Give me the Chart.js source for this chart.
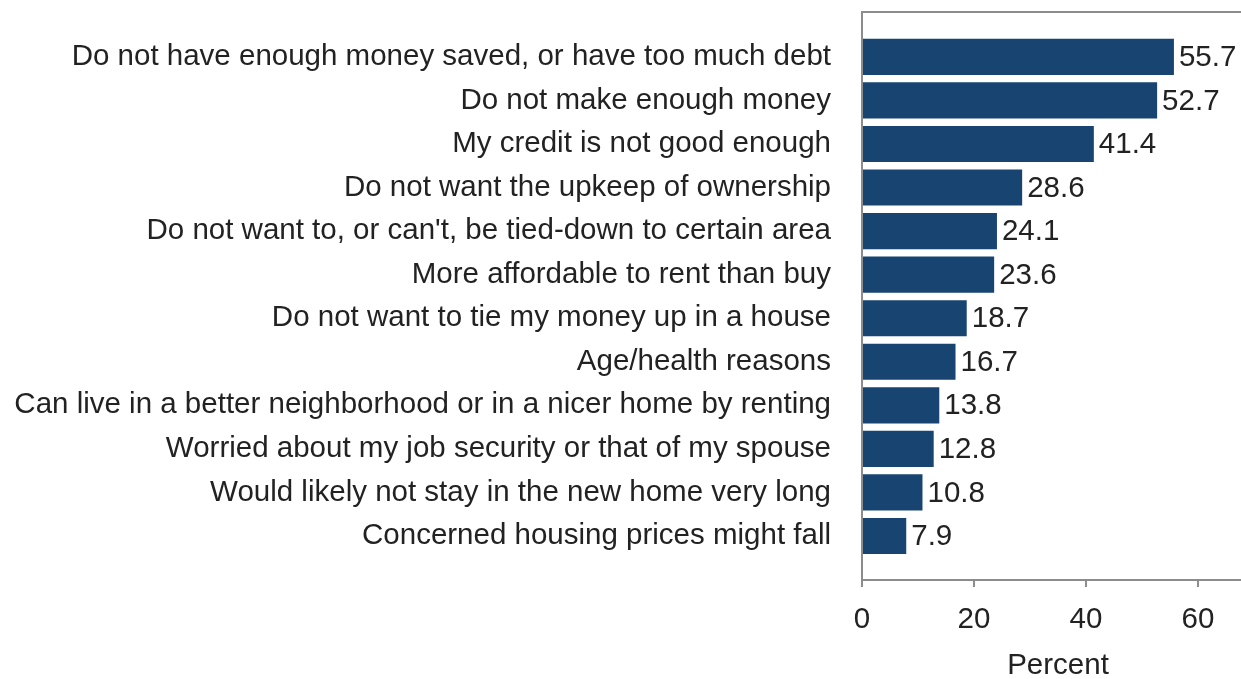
<!DOCTYPE html>
<html>
<head>
<meta charset="utf-8">
<script src="https://cdn.jsdelivr.net/npm/chart.js@4/dist/chart.umd.min.js"></script>
<style>
  html, body { margin: 0; padding: 0; background: #ffffff; overflow: hidden; }
  #wrap { width: 1262px; height: 679px; }
</style>
</head>
<body>
<div id="wrap"><canvas id="c" width="1262" height="679"></canvas></div>
<script>
// Reasons for not buying a home (percent of respondents)
const categories = [
  "Do not have enough money saved, or have too much debt",
  "Do not make enough money",
  "My credit is not good enough",
  "Do not want the upkeep of ownership",
  "Do not want to, or can't, be tied-down to certain area",
  "More affordable to rent than buy",
  "Do not want to tie my money up in a house",
  "Age/health reasons",
  "Can live in a better neighborhood or in a nicer home by renting",
  "Worried about my job security or that of my spouse",
  "Would likely not stay in the new home very long",
  "Concerned housing prices might fall"
];
const percents = [55.7, 52.7, 41.4, 28.6, 24.1, 23.6, 18.7, 16.7, 13.8, 12.8, 10.8, 7.9];
const xTicks = [0, 20, 40, 60];

const FONT = "'Liberation Sans', Arial, sans-serif";
const FSIZE = 29.5;
const TEXT = '#222222';
const AXIS = '#8c8c8c';
const BAR = '#174470';

// bar value labels, placed just past the end of each bar
const valueLabels = {
  id: 'valueLabels',
  afterDatasetsDraw(chart) {
    const ctx = chart.ctx;
    const meta = chart.getDatasetMeta(0);
    ctx.save();
    ctx.font = FSIZE + 'px ' + FONT;
    ctx.fillStyle = TEXT;
    ctx.textAlign = 'left';
    ctx.textBaseline = 'middle';
    meta.data.forEach((el, i) => {
      ctx.fillText(percents[i].toFixed(1), el.x + 5, el.y + 1);
    });
    ctx.restore();
  }
};

new Chart(document.getElementById('c'), {
  type: 'bar',
  data: {
    datasets: [{
      data: percents.map((v, i) => ({ x: v, y: i })),
      backgroundColor: BAR,
      borderWidth: 0,
      barPercentage: 0.83,
      categoryPercentage: 1
    }]
  },
  options: {
    indexAxis: 'y',
    responsive: false,
    animation: false,
    layout: { padding: { top: 12, right: 8, left: 0, bottom: 0 } },
    plugins: { legend: { display: false }, tooltip: { enabled: false } },
    scales: {
      y: {
        type: 'linear',
        reverse: true,
        offset: false,
        min: -1.03,
        max: 12.01,
        afterFit: (s) => { s.width = 862; s.paddingTop = 0; s.paddingBottom = 0; },
        afterBuildTicks: (s) => { s.ticks = categories.map((_, i) => ({ value: i })); },
        grid: { display: false, drawTicks: false },
        border: { display: true, color: AXIS, width: 2 },
        ticks: {
          autoSkip: false,
          padding: 31,
          color: TEXT,
          font: { family: FONT, size: FSIZE },
          callback: (v) => categories[v]
        }
      },
      x: {
        type: 'linear',
        position: 'bottom',
        min: 0,
        max: 70,
        afterBuildTicks: (s) => { s.ticks = xTicks.map(v => ({ value: v })); },
        afterFit: (s) => { s.height = 99; s.paddingLeft = 0; s.paddingRight = 0; },
        grid: { display: true, drawOnChartArea: false, drawTicks: true, tickLength: 7, color: AXIS, lineWidth: 2 },
        border: { display: true, color: AXIS, width: 2 },
        ticks: {
          padding: 15,
          color: TEXT,
          font: { family: FONT, size: FSIZE },
          maxRotation: 0
        },
        title: {
          display: true,
          text: 'Percent',
          color: TEXT,
          font: { family: FONT, size: FSIZE, lineHeight: 1 },
          padding: { top: 0, bottom: -2 }
        }
      },
      xTop: {
        type: 'linear',
        position: 'top',
        min: 0,
        max: 70,
        afterFit: (s) => { s.height = 0; },
        grid: { display: false, drawTicks: false },
        border: { display: true, color: AXIS, width: 2 },
        ticks: { display: false }
      }
    }
  },
  plugins: [valueLabels]
});
</script>
</body>
</html>
